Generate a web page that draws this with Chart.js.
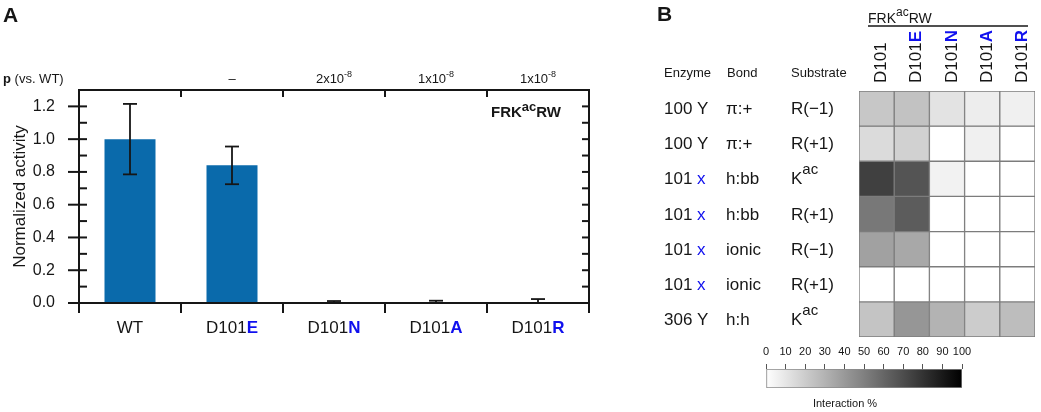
<!DOCTYPE html>
<html><head><meta charset="utf-8">
<script src="https://cdn.jsdelivr.net/npm/chart.js@4.4.1/dist/chart.umd.min.js"></script>
<style>
html,body{margin:0;padding:0;background:#fff;width:1041px;height:412px;overflow:hidden;}
canvas{position:absolute;}
</style></head><body>
<canvas id="cA" width="640" height="412" style="left:0;top:0"></canvas>
<canvas id="cB" width="401" height="412" style="left:640px;top:0"></canvas>
<canvas id="cC" width="250" height="72" style="left:740px;top:340px"></canvas>
<script>
// ---------- Panel A data ----------
const variantPrefix = ['WT', 'D101', 'D101', 'D101', 'D101'];
const variantLetter = ['', 'E', 'N', 'A', 'R'];
const activity = [1.0, 0.84, 0.004, 0.002, 0.006];
const activityErr = [0.215, 0.115, 0.008, 0.012, 0.018];
const pMantissa = ['', '\u2013', '2x10', '1x10', '1x10'];
const pExponent = ['', '', '-8', '-8', '-8'];
const yMax = 1.3;
const yStep = 0.1;

// ---------- Panel B data ----------
const columnPrefix = ['D101', 'D101', 'D101', 'D101', 'D101'];
const columnLetter = ['', 'E', 'N', 'A', 'R'];
const rowEnzymeNum = ['100', '100', '101', '101', '101', '101', '306'];
const rowEnzymeRes = ['Y', 'Y', 'x', 'x', 'x', 'x', 'Y'];
const rowBond = ['\u03c0:+', '\u03c0:+', 'h:bb', 'h:bb', 'ionic', 'ionic', 'h:h'];
const rowSubstrate = ['R(\u22121)', 'R(+1)', 'K', 'R(+1)', 'R(\u22121)', 'R(+1)', 'K'];
const rowSubstrateSup = ['', '', 'ac', '', '', '', 'ac'];
// interaction % per row, columns D101, D101E, D101N, D101A, D101R
const rowY100PiRm1 = [22, 24, 11, 7, 6];
const rowY100PiRp1 = [14, 18, 0, 6, 0];
const rowX101HbbKac = [75, 67, 5, 0, 0];
const rowX101HbbRp1 = [53, 64, 0, 0, 0];
const rowX101IonRm1 = [37, 34, 0, 0, 0];
const rowX101IonRp1 = [0, 0, 0, 0, 0];
const rowY306HhKac = [23, 41, 30, 20, 26];
const interactionRows = [rowY100PiRm1, rowY100PiRp1, rowX101HbbKac, rowX101HbbRp1, rowX101IonRm1, rowX101IonRp1, rowY306HhKac];
const colorbarTicks = [0, 10, 20, 30, 40, 50, 60, 70, 80, 90, 100];

// ---------- helpers ----------
const FONT = '"Liberation Sans", Arial, Helvetica, sans-serif';
const BLUE = '#1010ee';
const INK = '#161616';
Chart.defaults.font.family = FONT;
Chart.defaults.color = INK;
function fnt(size, bold) { return (bold ? 'bold ' : '') + size + 'px ' + FONT; }
function grayFor(v) {
  const g = Math.round(255 * (1 - v / 100));
  return 'rgb(' + g + ',' + g + ',' + g + ')';
}
function drawParts(ctx, parts, x, y, align) {
  let w = 0;
  parts.forEach(p => { ctx.font = p[1]; w += ctx.measureText(p[0]).width; });
  let cx = align === 'center' ? x - w / 2 : (align === 'right' ? x - w : x);
  ctx.textAlign = 'left';
  ctx.textBaseline = 'alphabetic';
  parts.forEach(p => {
    ctx.font = p[1]; ctx.fillStyle = p[2] || INK;
    ctx.fillText(p[0], cx, y + (p[3] || 0));
    cx += ctx.measureText(p[0]).width;
  });
}
function line(ctx, x1, y1, x2, y2) { ctx.beginPath(); ctx.moveTo(x1, y1); ctx.lineTo(x2, y2); ctx.stroke(); }

// ---------- Panel A ----------
const panelAPlugin = {
  id: 'panelA',
  afterDatasetsDraw(chart) {
    const ctx = chart.ctx, xs = chart.scales.x, ys = chart.scales.y;
    ctx.save();
    ctx.strokeStyle = INK; ctx.lineWidth = 1.8;
    activity.forEach((v, i) => {
      const x = xs.getPixelForValue(i);
      const yt = ys.getPixelForValue(v + activityErr[i]);
      const yb = ys.getPixelForValue(Math.max(0, v - activityErr[i]));
      line(ctx, x, yt, x, yb);
      line(ctx, x - 7, yt, x + 7, yt);
      if (v - activityErr[i] > 0) line(ctx, x - 7, yb, x + 7, yb);
    });
    ctx.restore();
  },
  afterDraw(chart) {
    const ctx = chart.ctx, xs = chart.scales.x, ys = chart.scales.y, a = chart.chartArea;
    ctx.save();
    ctx.strokeStyle = INK; ctx.lineWidth = 2;
    ctx.strokeRect(a.left, a.top, a.right - a.left, a.bottom - a.top);
    const nSteps = Math.round(yMax / yStep);
    for (let k = 0; k < nSteps; k++) {
      const y = ys.getPixelForValue(k * yStep);
      if (k % 2 === 0) line(ctx, a.left - 11, y, a.left + 8, y);
      else line(ctx, a.left - 1, y, a.left + 8, y);
      if (k > 0) line(ctx, a.right - 7, y, a.right, y);
    }
    for (let i = 0; i <= activity.length; i++) {
      const x = xs.getPixelForValue(i - 0.5);
      if (i > 0 && i < activity.length) line(ctx, x, a.top, x, a.top + 7);
      line(ctx, x, a.bottom, x, a.bottom + 10);
    }
    variantPrefix.forEach((p, i) => {
      drawParts(ctx, [[p, fnt(17), INK], [variantLetter[i], fnt(17, true), BLUE]], xs.getPixelForValue(i), 333, 'center');
    });
    drawParts(ctx, [['p', fnt(13, true), INK], [' (vs. WT)', fnt(13), INK]], 3, 83, 'left');
    pMantissa.forEach((m, i) => {
      if (!m) return;
      const parts = [[m, fnt(13), INK]];
      if (pExponent[i]) parts.push([pExponent[i], fnt(9), INK, -6]);
      drawParts(ctx, parts, xs.getPixelForValue(i), 83, 'center');
    });
    drawParts(ctx, [['FRK', fnt(15, true), INK], ['ac', fnt(13, true), INK, -6], ['RW', fnt(15, true), INK]], 491, 117, 'left');
    drawParts(ctx, [['A', fnt(21, true), INK]], 3, 22, 'left');
    ctx.translate(25, (a.top + a.bottom) / 2);
    ctx.rotate(-Math.PI / 2);
    ctx.font = fnt(17); ctx.fillStyle = INK; ctx.textAlign = 'center'; ctx.textBaseline = 'alphabetic';
    ctx.fillText('Normalized activity', 0, 0);
    ctx.restore();
  }
};

new Chart(document.getElementById('cA'), {
  type: 'bar',
  data: {
    labels: variantPrefix.map((p, i) => p + variantLetter[i]),
    datasets: [{ data: activity, backgroundColor: '#0a6aab', borderWidth: 0, barPercentage: 0.5, categoryPercentage: 1 }]
  },
  options: {
    responsive: false, animation: false, devicePixelRatio: 1,
    layout: { padding: { left: 0, top: 90, right: 51, bottom: 0 } },
    plugins: { legend: { display: false }, tooltip: { enabled: false } },
    scales: {
      x: { grid: { display: false }, border: { display: false }, ticks: { display: false },
           afterFit(s) { s.height = 109; } },
      y: { min: 0, max: yMax, grid: { display: false }, border: { display: false },
           ticks: { stepSize: yStep, padding: 16, color: INK, font: { size: 16 }, autoSkip: false,
                    callback: (v) => (Math.round(v * 10) % 2 === 0 && v < 1.25) ? v.toFixed(1) : '' },
           afterFit(s) { s.width = 79; } }
    }
  },
  plugins: [panelAPlugin]
});

// ---------- Panel B (heatmap) ----------
const panelBPlugin = {
  id: 'panelB',
  afterDraw(chart) {
    const ctx = chart.ctx, xs = chart.scales.x, ys = chart.scales.y;
    ctx.save();
    drawParts(ctx, [['B', fnt(21, true), INK]], 17, 21, 'left');
    drawParts(ctx, [['FRK', fnt(14), INK], ['ac', fnt(12), INK, -7], ['RW', fnt(14), INK]], 228, 23, 'left');
    ctx.strokeStyle = INK; ctx.lineWidth = 1.5;
    line(ctx, 228, 26, 388, 26);
    columnPrefix.forEach((p, i) => {
      ctx.save();
      ctx.translate(xs.getPixelForValue(i) + 9.5, 83);
      ctx.rotate(-Math.PI / 2);
      drawParts(ctx, [[p, fnt(17), INK], [columnLetter[i], fnt(17, true), BLUE]], 0, 0, 'left');
      ctx.restore();
    });
    drawParts(ctx, [['Enzyme', fnt(13), INK]], 24, 77, 'left');
    drawParts(ctx, [['Bond', fnt(13), INK]], 87, 77, 'left');
    drawParts(ctx, [['Substrate', fnt(13), INK]], 151, 77, 'left');
    rowEnzymeNum.forEach((n, r) => {
      const y = ys.getPixelForValue(r + 0.5) + 5.5;
      drawParts(ctx, [[n + ' ', fnt(17), INK], [rowEnzymeRes[r], fnt(17), rowEnzymeRes[r] === 'x' ? BLUE : INK]], 24, y, 'left');
      drawParts(ctx, [[rowBond[r], fnt(17), INK]], 86, y, 'left');
      const parts = [[rowSubstrate[r], fnt(17), INK]];
      if (rowSubstrateSup[r]) parts.push([rowSubstrateSup[r], fnt(15), INK, -10]);
      drawParts(ctx, parts, 151, y, 'left');
    });
    ctx.restore();
  }
};

new Chart(document.getElementById('cB'), {
  type: 'bar',
  data: {
    labels: columnPrefix.map((p, i) => p + columnLetter[i]),
    datasets: interactionRows.map(row => ({
      data: row.map(() => 1),
      backgroundColor: row.map(grayFor),
      borderColor: '#7c7c7c', borderWidth: 1, borderSkipped: false,
      barPercentage: 1, categoryPercentage: 1
    }))
  },
  options: {
    responsive: false, animation: false, devicePixelRatio: 1,
    layout: { padding: { left: 219, top: 91, right: 6, bottom: 75 } },
    plugins: { legend: { display: false }, tooltip: { enabled: false } },
    scales: {
      x: { display: false, stacked: true },
      y: { display: false, stacked: true, min: 0, max: interactionRows.length, reverse: true }
    }
  },
  plugins: [panelBPlugin]
});

// ---------- Colour bar ----------
const colorbarPlugin = {
  id: 'cbar',
  afterDraw(chart) {
    const ctx = chart.ctx;
    ctx.save();
    drawParts(ctx, [['Interaction %', fnt(11), INK]], 105, 67, 'center');
    ctx.restore();
  }
};
new Chart(document.getElementById('cC'), {
  type: 'bar',
  data: {
    labels: ['scale'],
    datasets: [{
      data: [[colorbarTicks[0], colorbarTicks[colorbarTicks.length - 1]]],
      backgroundColor: (c) => {
        const ch = c.chart, a = ch.chartArea;
        if (!a) return '#888';
        const xs = ch.scales.x;
        const g = ch.ctx.createLinearGradient(a.left, 0, a.right, 0);
        colorbarTicks.forEach(v => g.addColorStop((xs.getPixelForValue(v) - a.left) / (a.right - a.left), grayFor(v)));
        return g;
      },
      borderColor: '#8a8a8a', borderWidth: 1, borderSkipped: false,
      barPercentage: 1, categoryPercentage: 1
    }]
  },
  options: {
    indexAxis: 'y',
    responsive: false, animation: false, devicePixelRatio: 1,
    layout: { padding: { left: 26, top: 0, right: 28, bottom: 24 } },
    plugins: { legend: { display: false }, tooltip: { enabled: false } },
    scales: {
      x: { type: 'linear', position: 'top', min: 0, max: 100,
           ticks: { stepSize: 10, padding: 5, color: INK, font: { size: 11 }, maxRotation: 0, autoSkip: false },
           grid: { drawOnChartArea: false, tickLength: 5, color: '#555' },
           border: { display: false },
           afterFit(s) { s.height = 29; } },
      y: { display: false }
    }
  },
  plugins: [colorbarPlugin]
});
</script>
</body></html>
